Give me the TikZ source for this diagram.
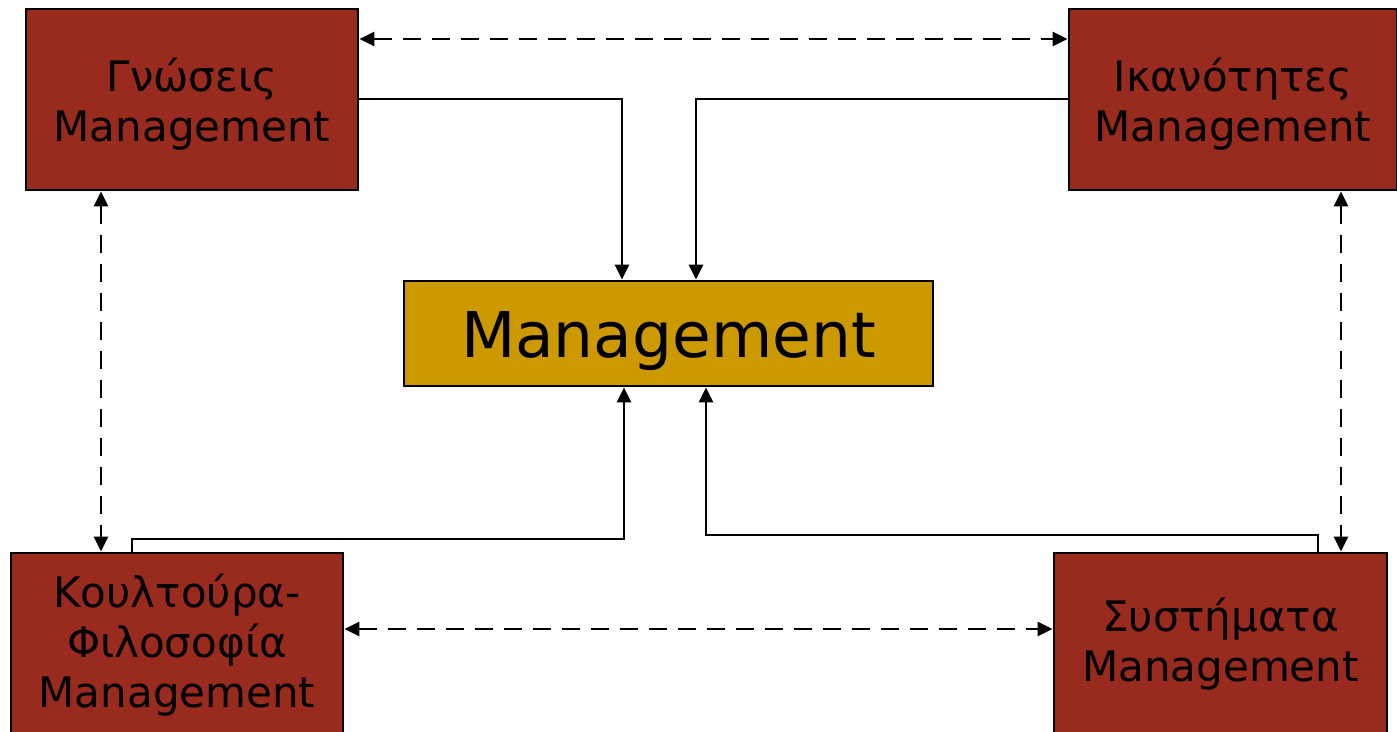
\documentclass[tikz,border=0pt]{standalone}
\usepackage{fontspec}
\setmainfont{DejaVu Sans}
\usetikzlibrary{arrows.meta}
\definecolor{boxred}{RGB}{153,42,30}
\definecolor{boxgold}{RGB}{204,153,0}
% centred stack of lines, drawn #1 lower than its reported extent
\newcommand\lowstack[2]{\raisebox{-#1}[\height][\depth]{\begin{tabular}{@{}c@{}}#2\end{tabular}}}
\tikzset{
  redbox/.style={draw=black, line width=2.8pt, fill=boxred, inner sep=0pt,
    font=\fontsize{42}{50}\selectfont},
  goldbox/.style={draw=black, line width=2.8pt, fill=boxgold, inner sep=0pt,
    font=\fontsize{63}{70}\selectfont},
  flow/.style={draw=black, line width=2.8pt, -{Triangle[length=15pt,width=14pt]}},
  link/.style={draw=black, line width=2.8pt, dash pattern=on 18pt off 11pt,
    {Triangle[length=15pt,width=14pt]}-{Triangle[length=15pt,width=14pt]}}
}
\begin{document}
\begin{tikzpicture}[x=1pt,y=-1pt]
  \useasboundingbox (0,0) rectangle (1397,731);
  \fill[white] (0,0) rectangle (1397,731);

  % boxes
  \node[redbox, minimum width=332pt, minimum height=181pt] (know) at (192,99.5)
    {\lowstack{7pt}{Γνώσεις\\Management}};
  \node[redbox, minimum width=328pt, minimum height=181pt] (skill) at (1233,99.5)
    {\lowstack{7pt}{Ικανότητες\\Management}};
  \node[goldbox, minimum width=529pt, minimum height=105pt] (mgmt) at (668.5,333.5)
    {\lowstack{10pt}{Management}};
  \node[redbox, minimum width=332pt, minimum height=184pt] (cult) at (177,645)
    {\lowstack{2pt}{Κουλτούρα-\\Φιλοσοφία\\Management}};
  \node[redbox, minimum width=333pt, minimum height=184pt] (sys) at (1220.5,645)
    {\lowstack{1pt}{Συστήματα\\Management}};

  % solid feeds into the central box
  \draw[flow] (know.east |- 0,99) -| (mgmt.north -| 622,0);
  \draw[flow] (skill.west |- 0,99) -| (mgmt.north -| 696,0);
  \draw[flow] (cult.north -| 132,0) |- (624,539) -- (mgmt.south -| 624,0);
  \draw[flow] (sys.north -| 1318,0) |- (706,535) -- (mgmt.south -| 706,0);

  % dashed mutual links between the outer boxes
  \draw[link] (know.east |- 0,39) -- (skill.west |- 0,39);
  \draw[link] (know.south -| 101,0) -- (cult.north -| 101,0);
  \draw[link] (skill.south -| 1341,0) -- (sys.north -| 1341,0);
  \draw[link] (cult.east |- 0,629) -- (sys.west |- 0,629);
\end{tikzpicture}
\end{document}
